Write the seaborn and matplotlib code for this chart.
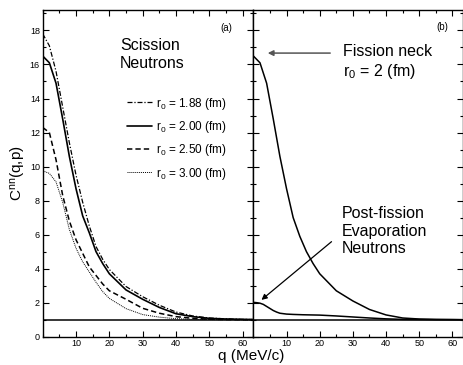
import numpy as np
import pandas as pd
import matplotlib
matplotlib.use("Agg")
import matplotlib.pyplot as plt
import seaborn as sns
from matplotlib.ticker import MultipleLocator, FixedLocator

# momentum grid (MeV/c)
q = [0, 2, 4, 6, 8, 10, 12, 14, 16, 18, 20, 25, 30, 35, 40, 45, 50, 55, 60, 63]

# scission neutrons, panel (a)
c_188 = [17.8, 17.1, 15.6, 13.5, 11.4, 9.5, 7.9, 6.5, 5.3, 4.55, 3.95, 2.95, 2.35, 1.85, 1.45, 1.22, 1.10, 1.05, 1.02, 1.01]
c_200 = [16.5, 16.1, 14.9, 12.8, 10.6, 8.7, 7.1, 6.1, 5.0, 4.3, 3.7, 2.75, 2.2, 1.72, 1.35, 1.18, 1.08, 1.04, 1.02, 1.01]
c_250 = [12.3, 12.0, 10.4, 8.3, 6.8, 5.7, 4.9, 4.1, 3.6, 3.1, 2.7, 2.2, 1.67, 1.38, 1.18, 1.08, 1.03, 1.01, 1.0, 1.0]
c_300 = [9.75, 9.6, 9.1, 7.9, 6.3, 5.2, 4.4, 3.8, 3.2, 2.65, 2.25, 1.65, 1.3, 1.15, 1.06, 1.02, 1.01, 1.0, 1.0, 1.0]

# panel (b)
neck = [16.5, 16.1, 14.9, 12.8, 10.6, 8.7, 7.0, 5.9, 5.0, 4.3, 3.7, 2.7, 2.1, 1.6, 1.28, 1.1, 1.04, 1.02, 1.01, 1.0]
q_post = [0, 1, 2, 3, 4, 5, 6, 7, 8, 10, 12, 15, 20, 25, 30, 35, 40, 45, 50, 55, 63]
post = [2.02, 2.0, 1.97, 1.9, 1.78, 1.66, 1.54, 1.45, 1.38, 1.33, 1.31, 1.29, 1.27, 1.22, 1.16, 1.1, 1.05, 1.02, 1.01, 1.0, 1.0]

labels = ["r$_0$ = 1.88 (fm)", "r$_0$ = 2.00 (fm)", "r$_0$ = 2.50 (fm)", "r$_0$ = 3.00 (fm)"]

sns.set_style("ticks")
plt.rcParams['font.family'] = ['Liberation Sans', 'DejaVu Sans']
plt.rcParams['mathtext.fontset'] = 'custom'
plt.rcParams['mathtext.rm'] = 'Liberation Sans'
plt.rcParams['mathtext.it'] = 'Liberation Sans:italic'
for k in ['text.color', 'axes.labelcolor', 'xtick.color', 'ytick.color', 'axes.edgecolor']:
    plt.rcParams[k] = 'black'

fig = plt.figure(figsize=(4.64, 3.65), dpi=100)
ax1 = fig.add_axes([0.092, 0.0775, 0.454, 0.895])
ax2 = fig.add_axes([0.546, 0.0775, 0.452, 0.895])

styles = [(0, (4, 1.5, 1, 1.5)), '-', (0, (3.5, 2)), (0, (1, 1))]
widths = [0.9, 1.2, 1.1, 0.7]
for vals, lab, ls, lw in zip([c_188, c_200, c_250, c_300], labels, styles, widths):
    df = pd.DataFrame({'q': q, 'C': vals})
    sns.lineplot(data=df, x='q', y='C', ax=ax1, color='black', linestyle=ls,
                 linewidth=lw, label=lab)

sns.lineplot(x=q, y=neck, ax=ax2, color='black', linewidth=1.1)
sns.lineplot(x=q_post, y=post, ax=ax2, color='black', linewidth=1.1)

for ax in (ax1, ax2):
    ax.axhline(1, color='black', linewidth=1.1)
    ax.set_xlim(0, 63.2)
    ax.set_ylim(0, 19.2)
    ax.xaxis.set_major_locator(FixedLocator([10, 20, 30, 40, 50, 60]))
    ax.xaxis.set_minor_locator(MultipleLocator(5))
    ax.yaxis.set_major_locator(MultipleLocator(2))
    ax.yaxis.set_minor_locator(MultipleLocator(1))
    ax.tick_params(which='both', direction='in', top=True, right=True,
                   labelsize=6.5, width=0.8, pad=2, colors='black')
    ax.tick_params(which='major', length=4)
    ax.tick_params(which='minor', length=2)
    for s in ax.spines.values():
        s.set_linewidth(1.0)
        s.set_color('black')
    ax.set_xlabel('')
    ax.set_ylabel('')

ax2.tick_params(labelleft=False)
ax1.set_ylabel("C$^{\\mathrm{nn}}$(q,p)", fontsize=11, labelpad=1)

leg = ax1.legend(loc='upper left', bbox_to_anchor=(0.40, 0.738), frameon=False,
                 fontsize=8.5, handlelength=2.1, handletextpad=0.35,
                 labelspacing=0.62, borderpad=0, borderaxespad=0)

ax1.text(0.367, 0.864, "Scission\nNeutrons", transform=ax1.transAxes,
         fontsize=11.5, va='center', ha='left', linespacing=1.3)
ax1.text(0.87, 0.945, "(a)", transform=ax1.transAxes, fontsize=7, ha='center', va='center')
ax2.text(0.903, 0.948, "(b)", transform=ax2.transAxes, fontsize=7, ha='center', va='center')

ax2.annotate("", xy=(3.5, 16.67), xytext=(24, 16.67),
             arrowprops=dict(arrowstyle='-|>', color='#555555', lw=1.1, mutation_scale=8))
ax2.text(26.9, 16.75, "Fission neck", fontsize=11.5, va='center', ha='left')
ax2.text(26.9, 15.57, "r$_0$ = 2 (fm)", fontsize=11.5, va='center', ha='left')

ax2.annotate("", xy=(1.8, 2.06), xytext=(24.2, 5.69),
             arrowprops=dict(arrowstyle='-|>', color='black', lw=0.9, mutation_scale=8))
ax2.text(26.5, 6.2, "Post-fission\nEvaporation\nNeutrons", fontsize=11.5,
         va='center', ha='left', linespacing=1.2)

fig.text(0.541, 0.025, "q (MeV/c)", fontsize=11, ha='center', va='center')

fig.savefig("out.png", dpi=100)
